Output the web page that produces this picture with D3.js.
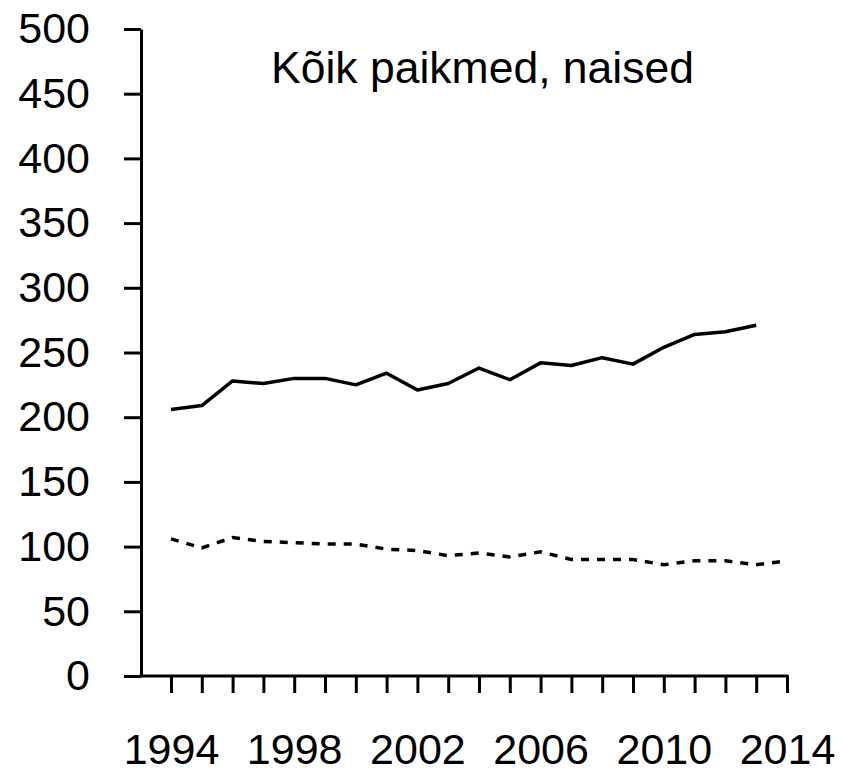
<!DOCTYPE html>
<html>
<head>
<meta charset="utf-8">
<script src="https://cdn.jsdelivr.net/npm/d3@7"></script>
<style>
  html, body { margin: 0; padding: 0; background: #fff; }
  svg { display: block; }
  text { font-family: "Liberation Sans", Arial, sans-serif; fill: #000; }
</style>
</head>
<body>
<svg id="chart" width="843" height="768"></svg>
<script>
// ---- data ----
const title = "Kõik paikmed, naised";
const years = d3.range(1994, 2015);
const solidYears = d3.range(1994, 2014);
const solidValues = [206, 209, 228, 226, 230, 230, 225, 234, 221, 226, 238, 229, 242, 240, 246, 241, 254, 264, 266, 271];
const dashedValues = [106, 99, 107, 104, 103, 102, 102, 98, 97, 93, 95, 92, 96, 90, 90, 90, 86, 89, 89, 86, 89];
const yTicks = [0, 50, 100, 150, 200, 250, 300, 350, 400, 450, 500];
const xLabelYears = [1994, 1998, 2002, 2006, 2010, 2014];

// ---- layout ----
const svg = d3.select("#chart");
const axisX = 141;
const x = d3.scaleLinear().domain([1994, 2014]).range([171, 787]);
const y = d3.scaleLinear().domain([0, 500]).range([676, 29]);
const fontSize = 43;

// y axis
const yAxis = d3.axisLeft(y)
  .tickValues(yTicks)
  .tickSize(17)
  .tickSizeOuter(0)
  .tickPadding(34)
  .tickFormat(d3.format("d"));
const gy = svg.append("g").attr("transform", `translate(${axisX},0)`).call(yAxis);
gy.selectAll("path, line").attr("stroke", "#000").attr("stroke-width", 3);
gy.selectAll("text").style("font-size", fontSize + "px")
  .style("font-family", '"Liberation Sans", Arial, sans-serif')
  .attr("fill", "#000");

// x axis
const xAxis = d3.axisBottom(x)
  .tickValues(years)
  .tickSize(17)
  .tickSizeOuter(0)
  .tickPadding(40)
  .tickFormat(d => xLabelYears.includes(d) ? String(d) : "");
const gx = svg.append("g").attr("transform", `translate(0,${y(0)})`).call(xAxis);
gx.select(".domain").remove();
gx.selectAll("line").attr("stroke", "#000").attr("stroke-width", 3);
gx.selectAll("text").style("font-size", fontSize + "px")
  .style("font-family", '"Liberation Sans", Arial, sans-serif')
  .attr("fill", "#000");
gx.append("line")
  .attr("x1", axisX - 1.5).attr("x2", x(2014) + 1.5)
  .attr("y1", 0).attr("y2", 0)
  .attr("stroke", "#000").attr("stroke-width", 3);

// lines
const line = d3.line().x(d => x(d[0])).y(d => y(d[1]));
svg.append("path")
  .datum(solidYears.map((yr, i) => [yr, solidValues[i]]))
  .attr("d", line)
  .attr("fill", "none")
  .attr("stroke", "#000")
  .attr("stroke-width", 3.5)
  .attr("stroke-linejoin", "round");

svg.append("path")
  .datum(years.map((yr, i) => [yr, dashedValues[i]]))
  .attr("d", line)
  .attr("fill", "none")
  .attr("stroke", "#000")
  .attr("stroke-width", 3.5)
  .attr("stroke-dasharray", "8,8");

// title
svg.append("text")
  .attr("x", 271)
  .attr("y", 83)
  .style("font-size", "44.5px")
  .text(title);
</script>
</body>
</html>
